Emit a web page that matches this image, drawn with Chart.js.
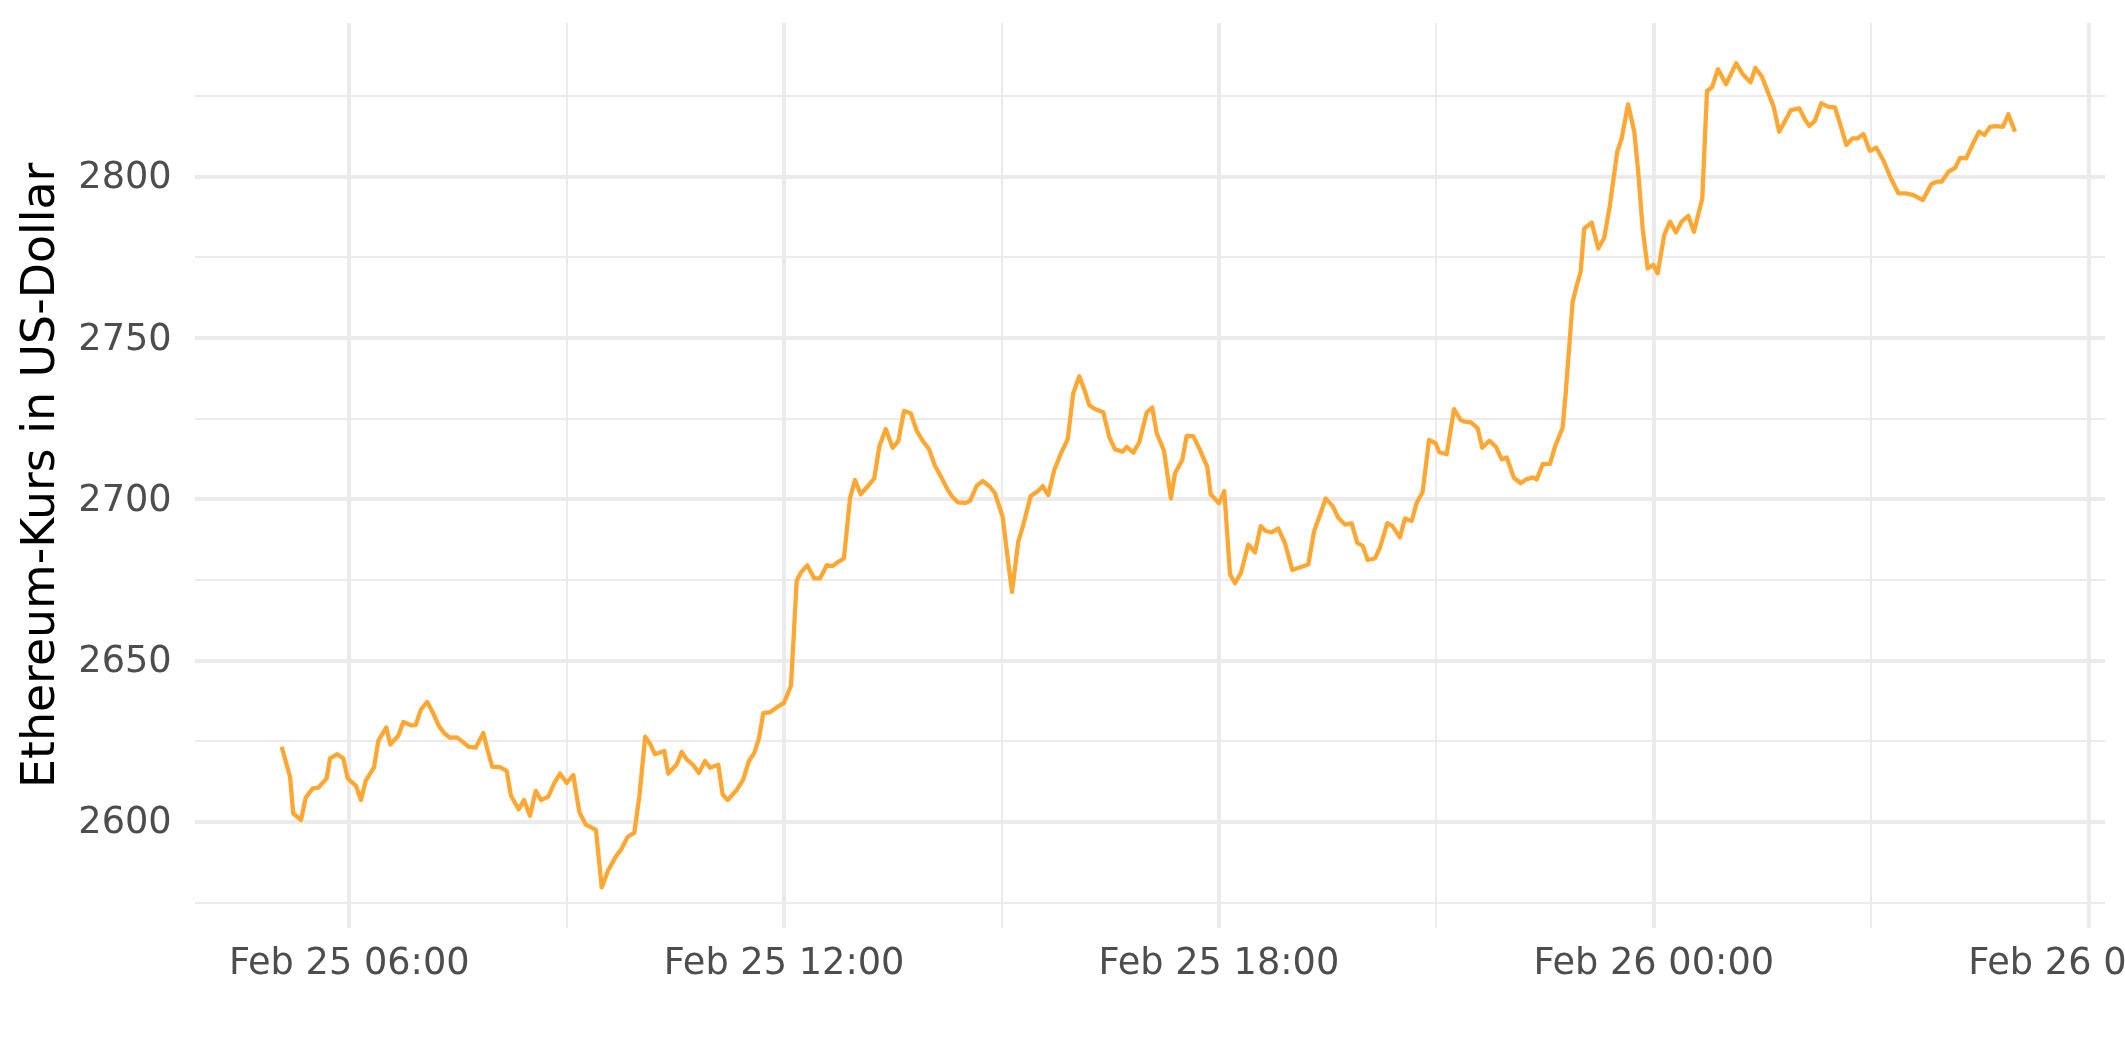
<!DOCTYPE html>
<html>
<head>
<meta charset="utf-8">
<script src="https://cdn.jsdelivr.net/npm/chart.js@4.4.1/dist/chart.umd.min.js"></script>
<style>
  html, body { margin: 0; padding: 0; background: #ffffff; }
  #c { display: block; }
</style>
</head>
<body>
<canvas id="c" width="2125" height="1062" style="width:2125px;height:1062px"></canvas>
<script>
// Hours since Feb 25 00:00 (values > 24 are on Feb 26)
const timeHours = [
  5.067, 5.182, 5.227, 5.334, 5.398, 5.495, 5.572, 5.688, 5.734, 5.834,
  5.917, 5.978, 6.092, 6.161, 6.226, 6.341, 6.400, 6.511, 6.566, 6.676,
  6.745, 6.861, 6.916, 6.989, 7.076, 7.151, 7.238, 7.311, 7.390, 7.486,
  7.565, 7.648, 7.744, 7.849, 7.904, 7.973, 8.079, 8.172, 8.231, 8.338,
  8.411, 8.493, 8.572, 8.645, 8.746, 8.825, 8.907, 9.000, 9.091, 9.174,
  9.262, 9.404, 9.483, 9.574, 9.690, 9.749, 9.842, 9.933, 10.002, 10.084,
  10.149, 10.218, 10.347, 10.402, 10.518, 10.587, 10.656, 10.747,
  10.825, 10.908, 10.977, 11.092, 11.152, 11.221, 11.346, 11.437, 11.515, 11.589,
  11.653, 11.713, 11.805, 11.898, 11.998, 12.095, 12.174, 12.229, 12.320, 12.416,
  12.495, 12.588, 12.665, 12.739, 12.826,
  12.909, 12.978, 13.057, 13.148, 13.244, 13.313, 13.402, 13.498, 13.576, 13.654,
  13.747, 13.829, 13.912, 13.999, 14.082, 14.165, 14.252, 14.321, 14.395, 14.496,
  14.565, 14.657, 14.740, 14.841, 14.910,
  15.016, 15.071, 15.145, 15.231, 15.300, 15.402, 15.494, 15.568, 15.645, 15.728,
  15.821, 15.913, 15.990, 16.073, 16.142, 16.211, 16.290, 16.359, 16.404, 16.487,
  16.566, 16.672, 16.727, 16.818, 16.901, 17.003, 17.080, 17.141, 17.242, 17.338,
  17.394, 17.494, 17.555, 17.646, 17.729, 17.839, 17.886, 18.001, 18.074, 18.153,
  18.222, 18.304, 18.405, 18.498, 18.576, 18.645, 18.728, 18.819, 18.912, 19.012,
  19.233, 19.312, 19.408, 19.473, 19.570, 19.647, 19.739, 19.832, 19.909, 19.984,
  20.053, 20.153, 20.222, 20.323, 20.392, 20.498,
  20.567, 20.660, 20.729, 20.812, 20.899, 20.991, 21.041, 21.143, 21.244, 21.336,
  21.395, 21.478, 21.571, 21.634, 21.731, 21.823, 21.902, 21.971, 22.071, 22.164,
  22.247, 22.338, 22.385, 22.468, 22.568, 22.637, 22.743, 22.785,
  22.881, 22.937, 22.992, 23.041, 23.144, 23.235, 23.318, 23.396, 23.497, 23.558,
  23.646, 23.732, 23.787, 23.847, 23.916, 23.994, 24.054, 24.145, 24.224, 24.307,
  24.385, 24.477, 24.555, 24.670,
  24.735, 24.805, 24.886, 24.997, 25.139, 25.225, 25.336, 25.402, 25.494, 25.564,
  25.655, 25.731, 25.807, 25.892, 26.010, 26.086, 26.146, 26.222, 26.313, 26.414,
  26.501, 26.581, 26.657, 26.742, 26.809, 26.894, 26.981, 27.072, 27.173, 27.273,
  27.376, 27.476, 27.577, 27.714, 27.831, 27.907, 27.972, 28.068, 28.159, 28.226,
  28.311, 28.402, 28.488, 28.564, 28.640, 28.731, 28.818, 28.894, 28.985
];

// Ethereum price in US-Dollar
const priceUSD = [
  2623.3, 2614.0, 2602.6, 2600.6, 2607.5, 2610.4, 2610.6, 2613.5, 2619.7, 2621.0,
  2619.7, 2613.5, 2611.2, 2606.8, 2612.7, 2616.9, 2625.1, 2629.3, 2624.0, 2626.7,
  2631.0, 2629.9, 2630.0, 2634.9, 2637.2, 2634.0, 2629.7, 2627.5, 2626.1, 2626.2,
  2624.8, 2623.3, 2623.0, 2627.6, 2622.6, 2617.1, 2617.0, 2615.8, 2608.1, 2603.9,
  2606.8, 2601.9, 2609.6, 2606.8, 2607.8, 2611.9, 2615.0, 2612.1, 2614.5, 2603.1,
  2599.2, 2597.5, 2579.7, 2585.1, 2589.7, 2591.3, 2595.4, 2596.6, 2607.8, 2626.4,
  2624.3, 2621.0, 2622.0, 2615.0, 2617.8, 2621.7, 2619.4, 2617.6,
  2615.2, 2618.9, 2616.8, 2617.7, 2608.5, 2606.8, 2609.9, 2613.2, 2618.9, 2621.4,
  2625.9, 2633.7, 2634.0, 2635.5, 2636.9, 2642.2, 2674.8, 2677.2, 2679.6, 2675.5,
  2675.5, 2679.6, 2679.3, 2680.5, 2681.7,
  2700.3, 2706.0, 2701.6, 2703.9, 2706.5, 2716.3, 2721.8, 2716.0, 2718.1, 2727.4,
  2726.7, 2721.3, 2718.2, 2715.6, 2710.4, 2707.0, 2703.2, 2700.8, 2699.1, 2698.9,
  2699.5, 2704.2, 2705.7, 2703.9, 2701.9,
  2694.6, 2684.3, 2671.3, 2686.9, 2692.0, 2701.0, 2702.4, 2704.1, 2701.3, 2709.1,
  2714.3, 2718.6, 2732.9, 2738.2, 2734.1, 2729.2, 2728.0, 2727.4, 2727.0, 2719.4,
  2715.5, 2714.8, 2716.3, 2714.5, 2717.7, 2726.9, 2728.5, 2720.5, 2715.1, 2700.3,
  2708.1, 2712.2, 2719.7, 2719.6, 2715.8, 2710.1, 2701.6, 2698.8, 2702.6, 2676.8,
  2674.0, 2677.2, 2686.0, 2683.6, 2691.7, 2690.2, 2689.8, 2691.0, 2686.4, 2678.1,
  2679.8, 2690.0, 2696.0, 2700.3, 2697.9, 2694.3, 2692.2, 2692.6, 2686.5, 2685.6,
  2681.2, 2681.7, 2685.0, 2692.6, 2691.8, 2688.2,
  2694.1, 2693.3, 2698.9, 2702.4, 2718.4, 2717.4, 2714.6, 2714.0, 2728.0, 2724.6,
  2724.1, 2723.9, 2722.0, 2716.0, 2718.2, 2716.3, 2712.4, 2713.0, 2706.7, 2705.0,
  2706.3, 2706.8, 2706.2, 2710.9, 2711.0, 2716.3, 2722.2, 2732.9,
  2761.3, 2766.2, 2770.6, 2784.0, 2785.8, 2777.8, 2781.2, 2791.3, 2807.8, 2811.9,
  2822.5, 2814.0, 2801.1, 2784.0, 2771.6, 2772.7, 2770.1, 2782.0, 2786.1, 2782.8,
  2786.1, 2787.9, 2783.0, 2793.3,
  2826.6, 2827.8, 2833.4, 2828.7, 2835.2, 2831.9, 2829.3, 2833.8, 2831.0, 2826.9,
  2821.7, 2814.0, 2817.1, 2820.7, 2821.2, 2817.8, 2815.8, 2817.3, 2822.8, 2821.7,
  2821.5, 2815.7, 2809.9, 2811.9, 2811.9, 2813.3, 2808.1, 2809.0, 2804.9, 2799.5,
  2794.9, 2794.9, 2794.4, 2792.8, 2797.8, 2798.5, 2798.5, 2801.6, 2802.8, 2805.9,
  2805.7, 2810.1, 2814.0, 2813.0, 2815.5, 2815.7, 2815.5, 2819.4, 2814.0
];

// Axis ticks
const xTickValues = [6, 9, 12, 15, 18, 21, 24, 27, 30];
const xTickLabels = ['Feb 25 06:00', '', 'Feb 25 12:00', '', 'Feb 25 18:00', '', 'Feb 26 00:00', '', 'Feb 26 06:00'];
const yTickValues = [2575, 2600, 2625, 2650, 2675, 2700, 2725, 2750, 2775, 2800, 2825];
const yTickLabels = ['', '2600', '', '2650', '', '2700', '', '2750', '', '2800', ''];
const yAxisTitle = 'Ethereum-Kurs in US-Dollar';

const n = Math.min(timeHours.length, priceUSD.length);
const points = [];
for (let i = 0; i < n; i++) points.push({ x: timeHours[i], y: priceUSD[i] });

Chart.defaults.font.family = "'DejaVu Sans', sans-serif";

const GRID = '#EBEBEB';
const FONT_TICK = { family: "'DejaVu Sans', sans-serif", size: 36.7, lineHeight: 1.2 };

new Chart(document.getElementById('c'), {
  type: 'line',
  data: {
    datasets: [{
      data: points,
      borderColor: '#FFA733',
      borderWidth: 4.3,
      borderJoinStyle: 'round',
      borderCapStyle: 'butt',
      pointRadius: 0,
      pointHoverRadius: 0,
      tension: 0,
      fill: false
    }]
  },
  options: {
    responsive: false,
    animation: false,
    devicePixelRatio: 1,
    events: [],
    layout: { padding: { top: 23, right: 20, left: 0, bottom: 0 } },
    plugins: { legend: { display: false }, tooltip: { enabled: false }, title: { display: false } },
    scales: {
      x: {
        type: 'linear',
        min: 3.871,
        max: 30.227,
        afterBuildTicks: (s) => { s.ticks = xTickValues.map(v => ({ value: v })); },
        afterFit: (s) => { s.height = 134.3; s.paddingLeft = 0; s.paddingRight = 0; },
        border: { display: false },
        grid: {
          color: GRID,
          drawTicks: false,
          lineWidth: (ctx) => (ctx.tick && Math.round(ctx.tick.value) % 6 === 0) ? 4 : 2
        },
        ticks: {
          autoSkip: false,
          maxRotation: 0,
          minRotation: 0,
          padding: 15,
          color: '#4D4D4D',
          font: FONT_TICK,
          callback: (value) => {
            const i = xTickValues.indexOf(Math.round(value));
            return i >= 0 ? xTickLabels[i] : '';
          }
        }
      },
      y: {
        type: 'linear',
        min: 2567.2,
        max: 2847.7,
        afterBuildTicks: (s) => { s.ticks = yTickValues.map(v => ({ value: v })); },
        afterFit: (s) => { s.width = 195; s.paddingTop = 0; s.paddingBottom = 0; },
        border: { display: false },
        grid: {
          color: GRID,
          drawTicks: false,
          lineWidth: (ctx) => (ctx.tick && Math.round(ctx.tick.value) % 50 === 0) ? 4 : 2
        },
        title: {
          display: true,
          text: yAxisTitle,
          color: '#000000',
          font: { family: "'DejaVu Sans', sans-serif", size: 45.8, lineHeight: 1.2 },
          padding: { top: 14.5, bottom: 0 }
        },
        ticks: {
          autoSkip: false,
          padding: 23.3,
          labelOffset: 2,
          color: '#4D4D4D',
          font: FONT_TICK,
          callback: (value) => {
            const i = yTickValues.indexOf(Math.round(value));
            return i >= 0 ? yTickLabels[i] : '';
          }
        }
      }
    }
  }
});
</script>
</body>
</html>
